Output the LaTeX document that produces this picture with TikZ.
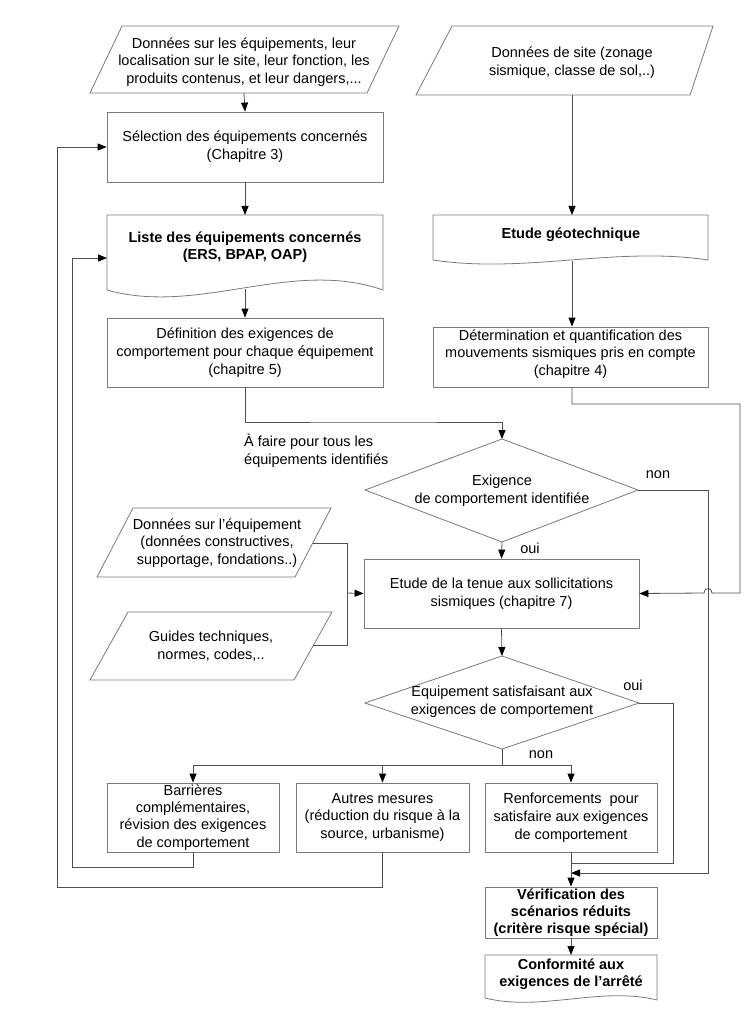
\documentclass[tikz,border=0pt]{standalone}
\usepackage{fontspec}
\setmainfont{Liberation Sans}
\usetikzlibrary{arrows.meta}
\definecolor{shapecol}{HTML}{7A7A7A}
\definecolor{conncol}{HTML}{505050}
\newcommand{\fnorm}{\fontsize{14.5}{17.8}\selectfont}
\newcommand{\fbold}{\fontsize{14.5}{16.8}\selectfont\bfseries}
\begin{document}
\begin{tikzpicture}[x=1pt,y=-1pt,
  shp/.style={draw=shapecol, line width=0.8pt},
  box/.style={shp, rectangle, align=center, inner sep=0pt, font=\fnorm},
  txt/.style={align=center, inner sep=0pt, font=\fnorm},
  btxt/.style={align=center, inner sep=0pt, font=\fbold},
  conn/.style={draw=conncol, line width=0.8pt},
  arr/.style={conn, -{Triangle[length=9pt,width=7pt,color=black,fill=black]}},
]
\useasboundingbox (0,0) rectangle (745,1024);
\fill[white] (0,0) rectangle (745,1024);

% ---- top left data
\draw[shp] (122,26) -- (399,26) -- (367,93) -- (90,93) -- cycle;
\node[txt] (d1) at (244,62) {Données sur les équipements, leur\\localisation sur le site, leur fonction, les\\produits contenus, et leur dangers,...};
\coordinate (d1s) at (244,93);

% ---- top right data
\draw[shp] (452,26) -- (713,26) -- (690,95) -- (416,95) -- cycle;
\node[txt] (d2) at (572,63) {Données de site (zonage\\sismique, classe de sol,..)};
\coordinate (d2s) at (572,95);

% ---- Selection
\node[box, minimum width=276, minimum height=70] (sel) at (245,147) {Sélection des équipements concernés\\(Chapitre 3)};

% ---- Liste (document)
\draw[shp] (107,290) -- (107,215) -- (383,215) -- (383,290)
   .. controls (291,258) and (199,316) .. (107,290);
\node[btxt] (liste) at (245,247) {Liste des équipements concernés\\(ERS, BPAP, OAP)};
\coordinate (listeN) at (245,215);
\coordinate (listeS) at (245,289);
\coordinate (listeW) at (107,258);

% ---- Definition
\node[box, minimum width=276, minimum height=69] (def) at (245,352.5) {Définition des exigences de\\comportement pour chaque équipement\\(chapitre 5)};

% ---- Etude geotechnique (document)
\draw[shp] (433,260) -- (433,215) -- (708,215) -- (708,260)
   .. controls (616,246) and (525,274) .. (433,260);
\node[btxt] (geo) at (571,235) {Etude géotechnique};
\coordinate (geoN) at (572,215);
\coordinate (geoS) at (572,261);

% ---- Determination
\node[box, minimum width=275, minimum height=60] (det) at (570.5,357) {};
\node[txt] (dett) at (570.5,354) {Détermination et quantification des\\mouvements sismiques pris en compte\\(chapitre 4)};
\coordinate (detS) at (572,387);

% ---- note
\node[align=left, inner sep=0pt, font=\fnorm, anchor=north west] (note) at (244,434) {À faire pour tous les\\équipements identifiés};

% ---- Diamond 1
\coordinate (q1n) at (502,439);
\coordinate (q1e) at (638,490);
\coordinate (q1s) at (502,542);
\coordinate (q1w) at (365,490);
\draw[shp] (q1n) -- (q1e) -- (q1s) -- (q1w) -- cycle;
\node[txt] (q1) at (502,491) {Exigence\\de comportement identifiée};
\node[txt, anchor=base] (non1) at (658,478) {non};
\node[txt, anchor=base] (oui1) at (530,553) {oui};

% ---- data equipement
\draw[shp] (133,508) -- (331,508) -- (295,577) -- (97,577) -- cycle;
\node[txt] (d3) at (217,543) {Données sur l’équipement\\(données constructives,\\supportage, fondations..)};
\coordinate (d3e) at (313,543);

\draw[shp] (128,612) -- (332,612) -- (294,680) -- (90,680) -- cycle;
\node[txt] (d4) at (211,646) {Guides techniques,\\normes, codes,..};
\coordinate (d4e) at (313,645);

% ---- Etude tenue
\node[box, minimum width=275, minimum height=69] (ten) at (501.5,593.5) {Etude de la tenue aux sollicitations\\sismiques (chapitre 7)};

% ---- Diamond 2
\coordinate (q2n) at (502,656);
\coordinate (q2e) at (639,703);
\coordinate (q2s) at (502,749);
\coordinate (q2w) at (365,703);
\draw[shp] (q2n) -- (q2e) -- (q2s) -- (q2w) -- cycle;
\node[txt] (q2) at (502,702) {Equipement satisfaisant aux\\exigences de comportement};
\node[txt, anchor=base] (oui2) at (633,690) {oui};
\node[txt, anchor=base] (non2) at (541,758) {non};

% ---- three boxes
\node[box, minimum width=172, minimum height=69, font=\fontsize{14.5}{17.2}\selectfont] (bar) at (193,817.5) {Barrières\\complémentaires,\\révision des exigences\\de comportement};
\node[box, minimum width=173, minimum height=69] (aut) at (382.5,817.5) {Autres mesures\\(réduction du risque à la\\source, urbanisme)};
\node[box, minimum width=172, minimum height=69] (ren) at (571,817.5) {Renforcements\ \ pour\\satisfaire aux exigences\\de comportement};

% ---- Verification
\node[box, minimum width=172, minimum height=51, font=\fbold] (ver) at (571,912.5) {Vérification des\\scénarios réduits\\(critère risque spécial)};

% ---- Conformite (document)
\draw[shp] (485,998) -- (485,955) -- (657,955) -- (657,1000)
   .. controls (600,986) and (542,1012) .. (485,998);
\node[btxt] (conf) at (571,974.5) {Conformité aux\\exigences de l’arrêté};
\coordinate (confN) at (571,955);

% ================= connectors
\draw[arr] (d1s) -- (sel.north);
\draw[arr] (sel.south) -- (listeN);
\draw[arr] (listeS) -- (def.north);
\draw[arr] (d2s) -- (geoN);
\draw[arr] (geoS) -- (det.north -| geoS);
\draw[arr] (def.south) |- (373,422) -| (q1n);
\draw[arr] (detS) -- (572,404) -- (740,404) -- (740,593) -- (712,593)
   .. controls (712,587) and (704,587) .. (704,593) -- (ten.east);
\draw[arr] (q1e) -- (708,490) -- (708,873) -- (571,873);
\draw[arr] (q1s) -- (ten.north);
\draw[conn] (d3e) -- (347,543) -- (347,645) -- (d4e);
\draw[arr] (347,593) -- (ten.west);
\draw[arr] (ten.south) -- (q2n);
\draw[conn] (q2e) -- (673,703) -- (673,863) -- (571,863);
\draw[conn] (q2s) -- (502,765);
\draw[conn] (193,765) -- (571,765);
\draw[arr] (193,765) -- (bar.north);
\draw[arr] (382.5,765) -- (aut.north);
\draw[arr] (571,765) -- (ren.north);
\draw[arr] (ren.south) -- (ver.north);
\draw[arr] (ver.south) -- (confN);
\draw[arr] (bar.south) -- (193,867) -- (72,867) -- (72,258) -- (listeW);
\draw[arr] (aut.south) -- (382.5,887) -- (57,887) -- (57,147) -- (sel.west);
\end{tikzpicture}
\end{document}
